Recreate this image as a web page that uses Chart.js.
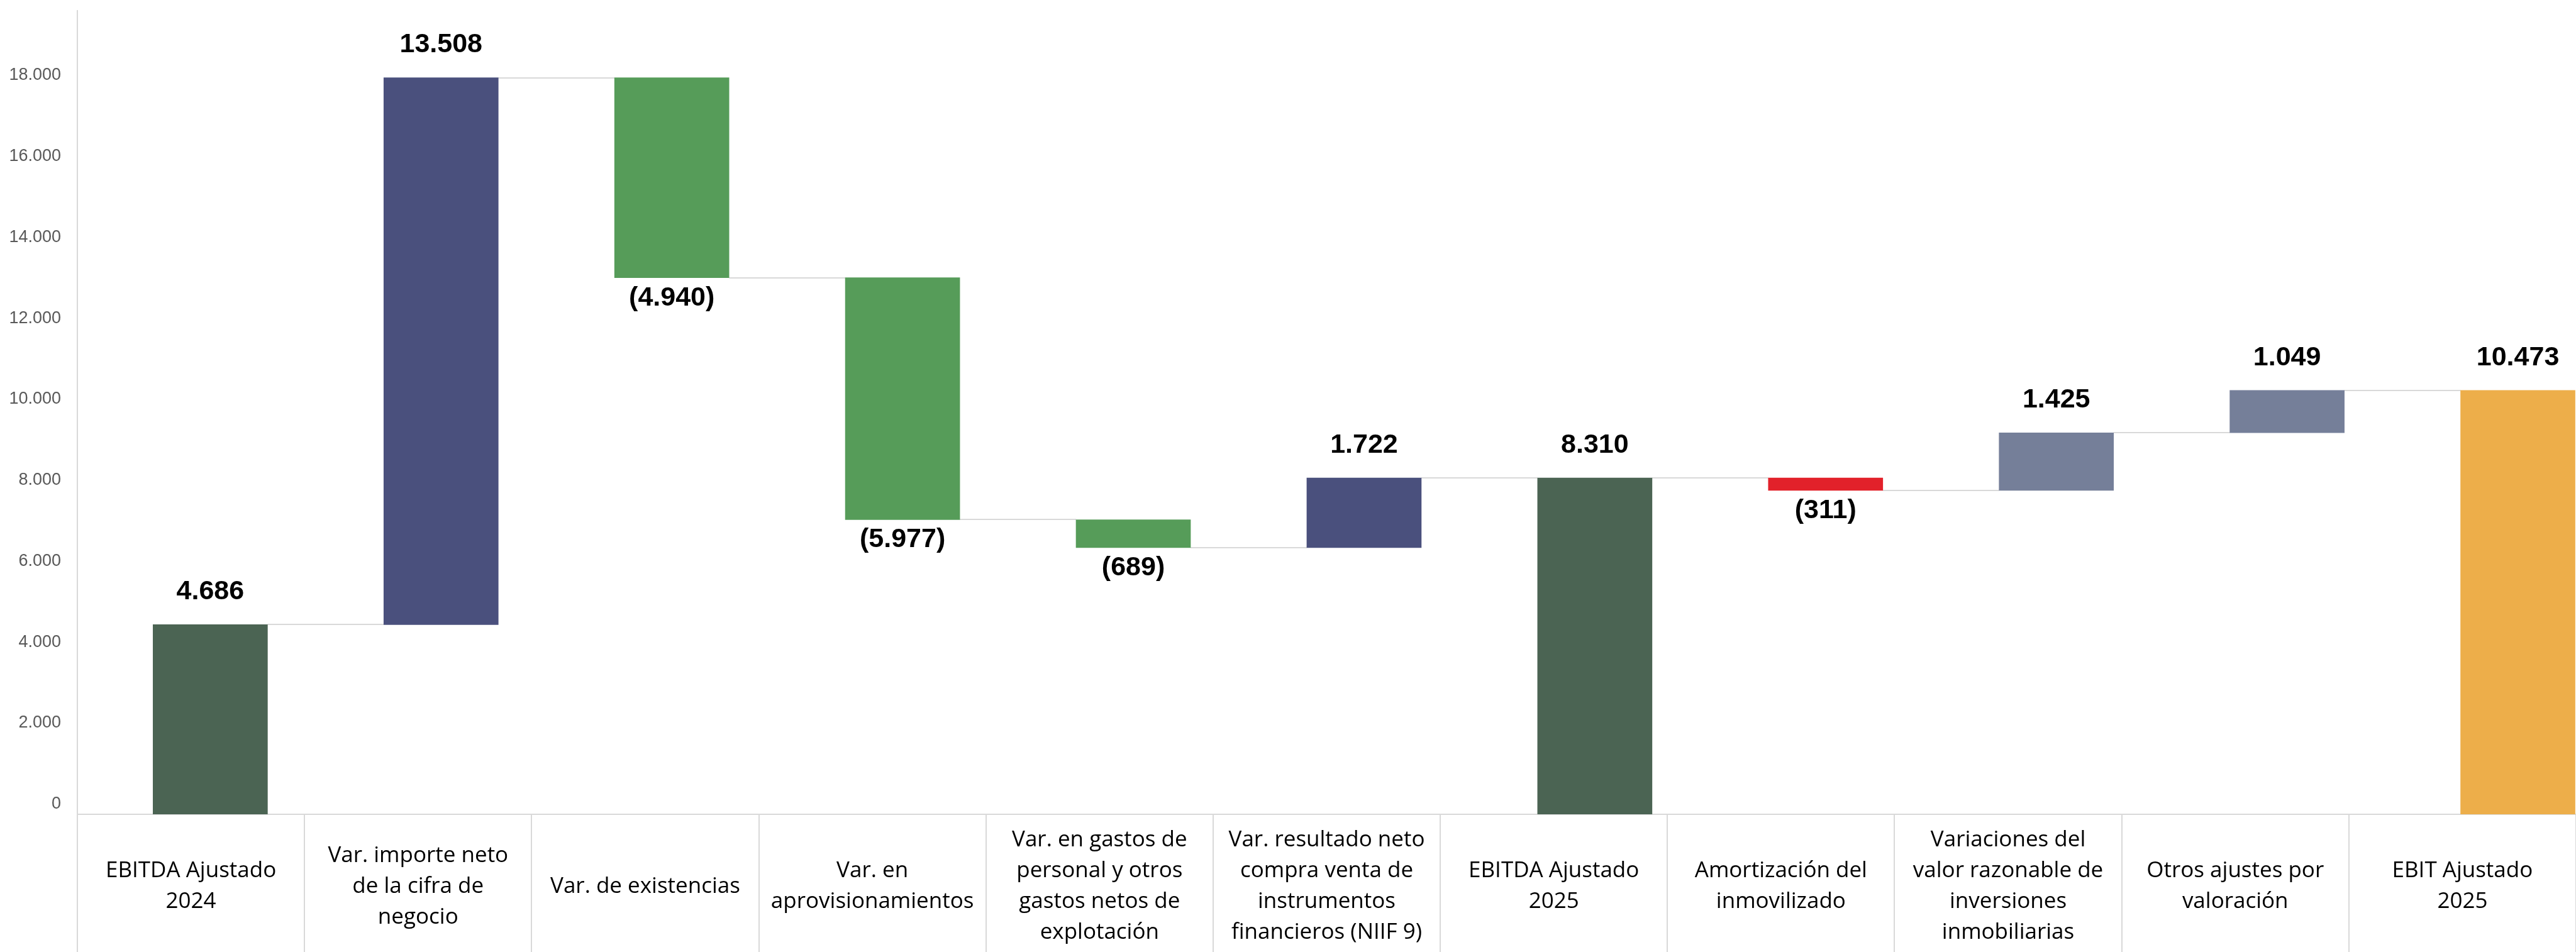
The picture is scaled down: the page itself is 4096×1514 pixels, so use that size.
<!DOCTYPE html>
<html lang="es">
<head>
    <meta charset="UTF-8">
    <title>EBITDA Ajustado 2024 - EBIT Ajustado 2025</title>
    <script src="https://cdn.jsdelivr.net/npm/chart.js"></script>
    <style>
        html, body {
            margin: 0;
            padding: 0;
            background: #ffffff;
            overflow: hidden;
        }
        .chart-box {
            position: relative;
            width: 4096px;
            height: 1514px;
        }
    </style>
</head>
<body>
    <div class="chart-box">
        <canvas id="waterfall"></canvas>
    </div>

    <script>
        // --- data ---
        const categories = [
            ['EBITDA Ajustado', '2024'],
            ['Var. importe neto', 'de la cifra de', 'negocio'],
            ['Var. de existencias'],
            ['Var. en', 'aprovisionamientos'],
            ['Var. en gastos de', 'personal y otros', 'gastos netos de', 'explotación'],
            ['Var. resultado neto', 'compra venta de', 'instrumentos', 'financieros (NIIF 9)'],
            ['EBITDA Ajustado', '2025'],
            ['Amortización del', 'inmovilizado'],
            ['Variaciones del', 'valor razonable de', 'inversiones', 'inmobiliarias'],
            ['Otros ajustes por', 'valoración'],
            ['EBIT Ajustado', '2025']
        ];
        const values = [4686, 13508, -4940, -5977, -689, 1722, 8310, -311, 1425, 1049, 10473];
        const isTotal = [true, false, false, false, false, false, true, false, false, false, true];
        const yTickValues = [0, 2000, 4000, 6000, 8000, 10000, 12000, 14000, 16000, 18000];

        // --- styling ---
        const barColors = [
            '#4b6453', '#4a507d', '#569c59', '#569c59', '#569c59', '#4a507d',
            '#4b6453', '#e2212a', '#757f99', '#757f99', '#edae4a'
        ];
        const lineGray = '#d9d9d9';

        function fmt(n) {
            return String(Math.round(Math.abs(n))).replace(/\B(?=(\d{3})+(?!\d))/g, '.');
        }

        // build floating bars from the running total
        const ranges = [];
        let running = 0;
        values.forEach((v, i) => {
            if (isTotal[i]) {
                ranges.push({ x: i, y: [0, v] });
                running = v;
            } else {
                ranges.push({ x: i, y: [running, running + v] });
                running += v;
            }
        });
        const levels = ranges.map(r => r.y[1]);

        const waterfallExtras = {
            id: 'waterfallExtras',
            beforeDatasetsDraw(chart) {
                // connector lines between consecutive bars
                const meta = chart.getDatasetMeta(0);
                const yScale = chart.scales.y;
                const ctx = chart.ctx;
                ctx.save();
                ctx.strokeStyle = lineGray;
                ctx.lineWidth = 2;
                for (let i = 0; i < meta.data.length - 1; i++) {
                    const a = meta.data[i];
                    const b = meta.data[i + 1];
                    const py = Math.round(yScale.getPixelForValue(levels[i]));
                    ctx.beginPath();
                    ctx.moveTo(a.x + a.width / 2, py);
                    ctx.lineTo(b.x - b.width / 2, py);
                    ctx.stroke();
                }
                ctx.restore();
            },
            afterDatasetsDraw(chart) {
                // value labels: above for increases/totals, below for decreases
                const meta = chart.getDatasetMeta(0);
                const ctx = chart.ctx;
                ctx.save();
                ctx.font = 'bold 43px "Liberation Sans", Arial, sans-serif';
                ctx.fillStyle = '#000000';
                ctx.textAlign = 'center';
                ctx.textBaseline = 'middle';
                meta.data.forEach((bar, i) => {
                    const top = Math.min(bar.y, bar.base);
                    const bottom = Math.max(bar.y, bar.base);
                    const v = values[i];
                    if (v < 0) {
                        ctx.fillText('(' + fmt(v) + ')', bar.x, bottom + 32);
                    } else {
                        ctx.fillText(fmt(v), bar.x, top - 52);
                    }
                });
                ctx.restore();
            }
        };

        new Chart(document.getElementById('waterfall'), {
            type: 'bar',
            data: {
                labels: categories,
                datasets: [{
                    data: ranges,
                    xAxisID: 'xb',
                    backgroundColor: barColors,
                    borderWidth: 0,
                    borderSkipped: false,
                    barThickness: 182
                }]
            },
            options: {
                responsive: true,
                maintainAspectRatio: false,
                animation: false,
                devicePixelRatio: 1,
                layout: {
                    padding: { top: 17, right: 0, bottom: 0, left: 4 }
                },
                plugins: {
                    legend: { display: false },
                    tooltip: { enabled: false }
                },
                scales: {
                    x: {
                        type: 'category',
                        position: 'bottom',
                        offset: true,
                        grid: {
                            display: true,
                            offset: true,
                            drawOnChartArea: false,
                            drawTicks: true,
                            tickLength: 219,
                            color: lineGray,
                            lineWidth: 2
                        },
                        border: { display: true, color: lineGray, width: 2 },
                        ticks: {
                            autoSkip: false,
                            maxRotation: 0,
                            minRotation: 0,
                            crossAlign: 'center',
                            padding: -177.5,
                            color: '#000000',
                            font: { family: '"Open Sans", sans-serif', size: 35, lineHeight: 1.4 }
                        },
                        afterFit(scale) {
                            scale.height = 219;
                        }
                    },
                    xb: {
                        type: 'linear',
                        display: false,
                        offset: false,
                        min: -0.576,
                        max: 10.252
                    },
                    y: {
                        min: 0,
                        max: 19850,
                        grid: { display: false },
                        border: { display: true, color: lineGray, width: 2 },
                        afterBuildTicks(scale) {
                            scale.ticks = yTickValues.map(v => ({ value: v }));
                        },
                        ticks: {
                            padding: 18,
                            color: '#595959',
                            font: { family: '"Liberation Sans", Arial, sans-serif', size: 27, lineHeight: 1.2 },
                            // second empty line lifts each label a little above its value, as in the original
                            callback: (value) => [fmt(value), '']
                        },
                        afterFit(scale) {
                            scale.width = 119;
                            scale.paddingTop = 0;
                            scale.paddingBottom = 0;
                        }
                    }
                }
            },
            plugins: [waterfallExtras]
        });
    </script>
</body>
</html>
